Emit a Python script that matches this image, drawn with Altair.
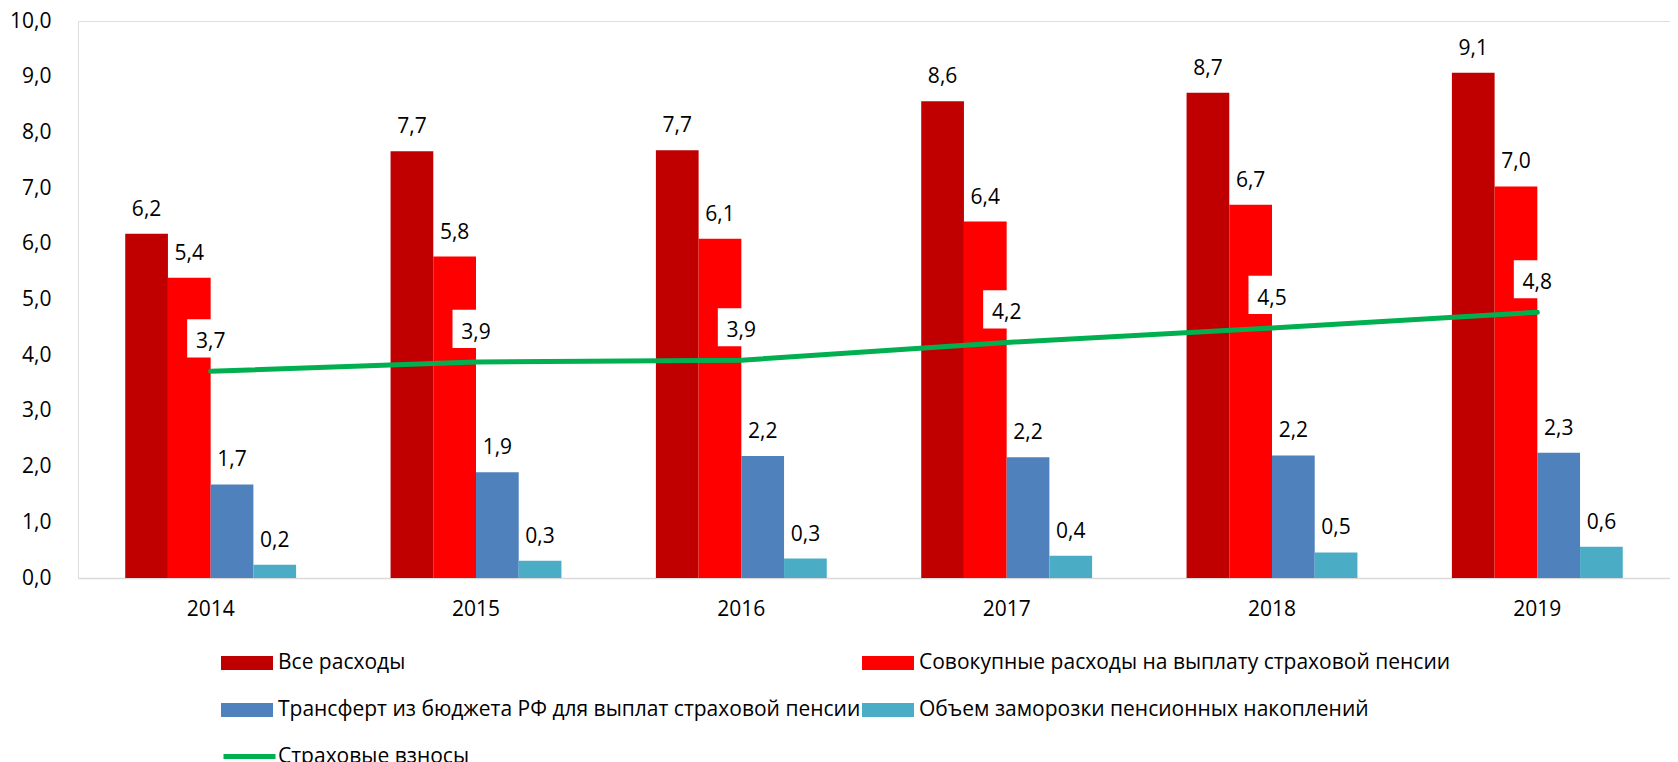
import altair as alt
import pandas as pd

years = ["2014", "2015", "2016", "2017", "2018", "2019"]
series_names = [
    "Все расходы",
    "Совокупные расходы на выплату страховой пенсии",
    "Трансферт из бюджета РФ для выплат страховой пенсии",
    "Объем заморозки пенсионных накоплений",
]
all_expenses = [6.18, 7.66, 7.68, 8.56, 8.71, 9.07]
pension_expenses = [5.39, 5.77, 6.09, 6.40, 6.70, 7.03]
budget_transfer = [1.68, 1.90, 2.19, 2.17, 2.20, 2.25]
freeze_volume = [0.24, 0.31, 0.35, 0.40, 0.46, 0.56]
line_name = "Страховые взносы"
contributions = [3.71, 3.88, 3.91, 4.23, 4.49, 4.77]

bar_colors = ["#C00000", "#FF0000", "#4F81BD", "#4BACC6"]
line_color = "#00B050"
FONT = "Open Sans"

rows = []
for name, vals in zip(series_names, [all_expenses, pension_expenses, budget_transfer, freeze_volume]):
    for y, v in zip(years, vals):
        rows.append({"year": y, "series": name, "value": v})
bars_df = pd.DataFrame(rows)
line_df = pd.DataFrame({"year": years, "series": [line_name] * len(years), "value": contributions})

label_expr = "replace(format(datum.value, '.1f'), '.', ',')"

x_enc = alt.X(
    "year:N",
    scale=alt.Scale(paddingInner=0.356, paddingOuter=0.178),
    axis=alt.Axis(title=None, labelAngle=0, ticks=False, domainColor="#D9D9D9",
                  domainWidth=1.5, labelFontSize=21, labelPadding=20, labelColor="black",
                  labelFont=FONT),
)
y_enc = alt.Y(
    "value:Q",
    scale=alt.Scale(domain=[0, 10], nice=False),
    axis=alt.Axis(title=None, values=list(range(11)), labelExpr=label_expr, grid=False,
                  domain=False, ticks=False, labelFontSize=21, labelPadding=27,
                  labelColor="black", labelFont=FONT),
)
xoff = alt.XOffset("series:N", sort=series_names, scale=alt.Scale(paddingInner=0, paddingOuter=0))

base_bars = alt.Chart(bars_df).transform_calculate(label=label_expr)

bars = base_bars.mark_bar().encode(
    x=x_enc,
    xOffset=xoff,
    y=y_enc,
    color=alt.Color(
        "series:N",
        sort=series_names,
        scale=alt.Scale(domain=series_names, range=bar_colors),
        legend=alt.Legend(
            title=None, orient="none", legendX=143, legendY=616, columns=2,
            direction="horizontal",
            columnPadding=1, rowPadding=11, padding=0, labelLimit=0,
            symbolType="M-1,-0.27H1V0.27H-1Z", symbolSize=2704, symbolStrokeWidth=0,
            labelFontSize=21, labelFont=FONT, labelColor="black", labelOffset=5,
        ),
    ),
)

bar_labels = base_bars.mark_text(dy=-18, baseline="alphabetic", fontSize=21, font=FONT, color="black").encode(
    x="year:N", xOffset=xoff, y="value:Q", text="label:N"
)

base_line = alt.Chart(line_df).transform_calculate(label=label_expr)

boxes = base_line.mark_point(
    shape="M-1,-0.81H1V0.81H-1Z", size=2209, filled=True, fill="white", opacity=1,
    strokeWidth=0, yOffset=-33,
).encode(x="year:N", y="value:Q")

line = base_line.mark_line(strokeWidth=5, strokeCap="round").encode(
    x="year:N",
    y="value:Q",
    stroke=alt.Stroke(
        "series:N",
        scale=alt.Scale(domain=[line_name], range=[line_color]),
        legend=alt.Legend(
            title=None, orient="none", legendX=143, legendY=707, padding=0, labelLimit=0,
            symbolType="stroke", symbolSize=2704, symbolStrokeWidth=5,
            labelFontSize=21, labelFont=FONT, labelColor="black", labelOffset=0,
        ),
    ),
)

line_labels = base_line.mark_text(dy=-23, baseline="alphabetic", fontSize=21, font=FONT, color="black").encode(
    x="year:N", y="value:Q", text="label:N"
)

chart = alt.layer(bars, bar_labels, boxes, line, line_labels).properties(
    width=1592, height=557,
    autosize=alt.AutoSizeParams(type="none"),
    padding={"left": 70, "top": 13, "right": 0, "bottom": 200},
).configure_view(stroke=None).configure(font=FONT)

chart.save("out.html", embed_options={"renderer": "svg", "actions": False})
